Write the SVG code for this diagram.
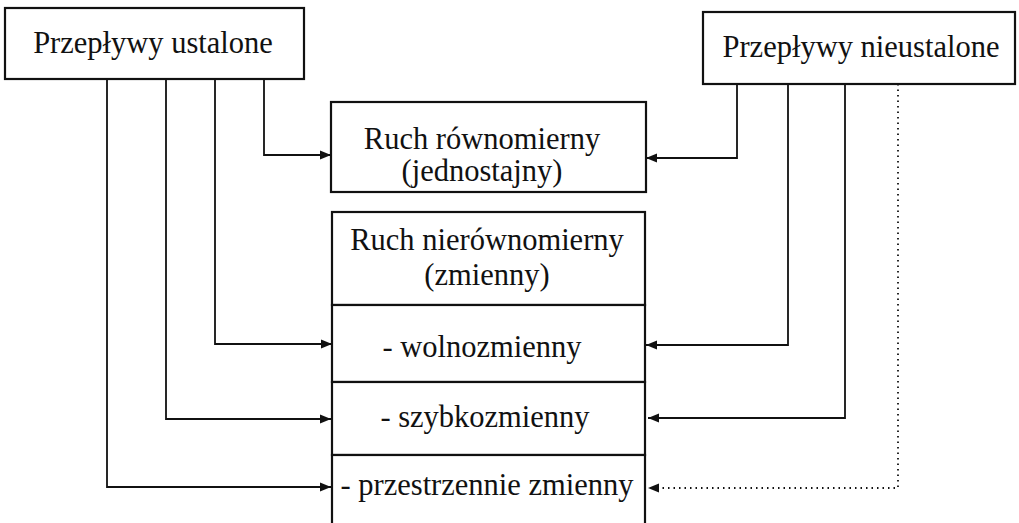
<svg xmlns="http://www.w3.org/2000/svg" width="1019" height="523" viewBox="0 0 1019 523">
<style>
.box{fill:#fff;stroke:#111;stroke-width:2.2}
.t{font-family:"Liberation Serif","Times New Roman",serif;font-size:30.5px;fill:#111;text-anchor:middle}
.c{fill:none;stroke:#111;stroke-width:1.8}
.d{fill:none;stroke:#111;stroke-width:1.8;stroke-dasharray:1.5 4}
</style>
<defs>
<marker id="ah" markerUnits="userSpaceOnUse" markerWidth="11" markerHeight="10" viewBox="0 0 11 10" refX="11" refY="5" orient="auto">
<path d="M0,0.5 L11,5 L0,9.5 Z" fill="#111"/>
</marker>
</defs>
<rect width="1019" height="523" fill="#fff"/>
<g id="connectors">
<polyline class="c" points="264,79 264,155 331,155" marker-end="url(#ah)"/>
<polyline class="c" points="215,79 215,344 332,344" marker-end="url(#ah)"/>
<polyline class="c" points="166,79 166,419 331,419" marker-end="url(#ah)"/>
<polyline class="c" points="107,79 107,487 331,487" marker-end="url(#ah)"/>
<polyline class="c" points="737,84 737,158 646,158" marker-end="url(#ah)"/>
<polyline class="c" points="788,84 788,345 646,345" marker-end="url(#ah)"/>
<polyline class="c" points="845,84 845,418 648,418" marker-end="url(#ah)"/>
<polyline class="d" points="898,84 898,488 648,488" marker-end="url(#ah)"/>
</g>
<g id="ustalone">
<rect class="box" x="5" y="8" width="299" height="71"/>
<text class="t" x="153" y="53">Przepływy ustalone</text>
</g>
<g id="nieustalone">
<rect class="box" x="703" y="12" width="312" height="72"/>
<text class="t" x="861" y="57">Przepływy nieustalone</text>
</g>
<g id="rownomierny">
<rect class="box" x="331" y="102" width="315" height="90"/>
<text class="t" x="482" y="149">Ruch równomierny</text>
<text class="t" x="482" y="181">(jednostajny)</text>
</g>
<g id="nierownomierny">
<rect class="box" x="332" y="212" width="313" height="93"/>
<text class="t" x="487" y="250">Ruch nierównomierny</text>
<text class="t" x="487" y="285">(zmienny)</text>
</g>
<g id="wolnozmienny">
<rect class="box" x="332" y="305" width="313" height="77"/>
<text class="t" x="482" y="357">- wolnozmienny</text>
</g>
<g id="szybkozmienny">
<rect class="box" x="332" y="382" width="313" height="73"/>
<text class="t" x="485" y="427">- szybkozmienny</text>
</g>
<g id="przestrzennie">
<rect class="box" x="332" y="455" width="313" height="80"/>
<text class="t" x="487" y="495">- przestrzennie zmienny</text>
</g>
</svg>
